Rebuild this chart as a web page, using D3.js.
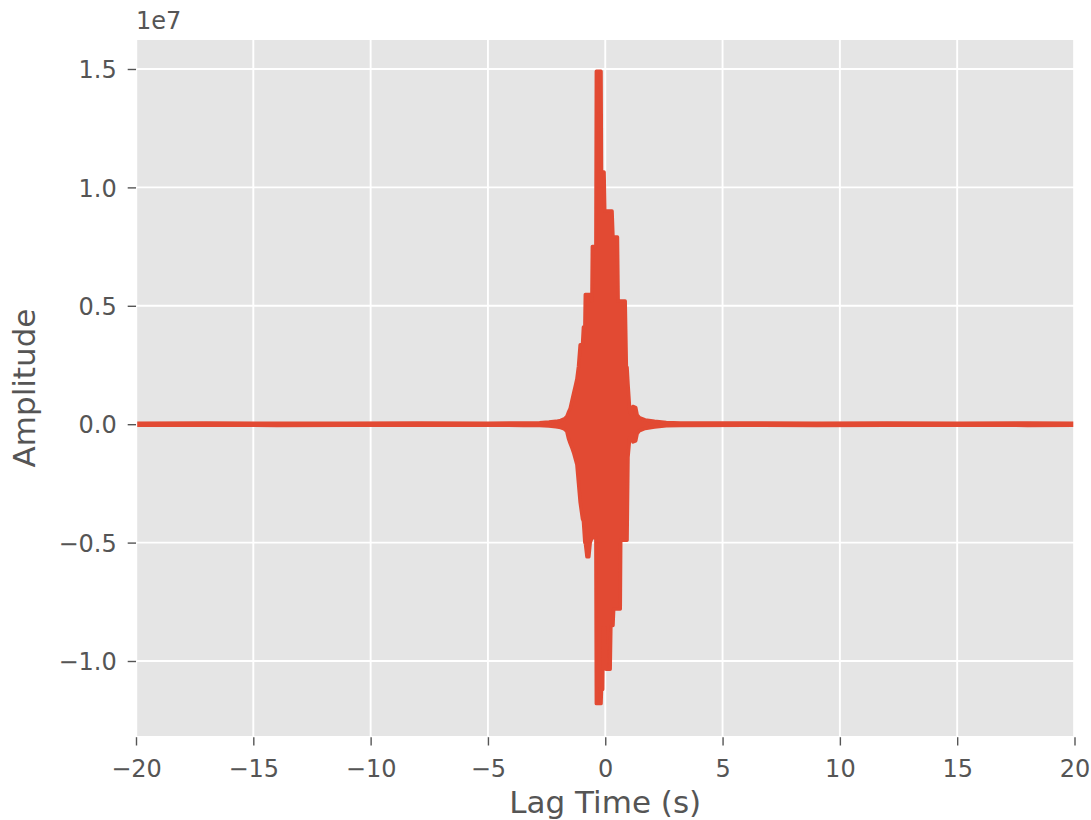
<!DOCTYPE html>
<html>
<head>
<meta charset="utf-8">
<script src="https://cdn.jsdelivr.net/npm/d3@7/dist/d3.min.js"></script>
<style>
  html, body { margin: 0; padding: 0; background: #ffffff; }
  svg { display: block; }
  text { font-family: "DejaVu Sans", sans-serif; }
</style>
</head>
<body>
<svg id="chart" width="1091" height="820"></svg>
<script>
// ---- Data (amplitudes in units of 1e7) ----
// Envelope of the cross-correlation trace.
const lagTime = [-20, -17, -14, -11, -8, -5, -3.5, -2.8, -2.4, -2.1, -1.9, -1.75, -1.64, -1.57, -1.5, -1.42, -1.35, -1.28, -1.21, -1.14, -1.07, -0.97, -0.93, -0.87, -0.85, -0.78, -0.7, -0.64, -0.57, -0.55, -0.4, -0.38, -0.18, -0.16, -0.11, -0.09, -0.05, -0.02, 0.03, 0.21, 0.24, 0.29, 0.33, 0.36, 0.52, 0.55, 0.64, 0.66, 0.85, 0.9, 0.93, 0.97, 1.05, 1.12, 1.18, 1.3, 1.36, 1.45, 1.7, 2.1, 2.6, 3.2, 6, 9, 12, 15, 18, 20];
const upperEnv = [0.004, 0.005, 0.004, 0.004, 0.005, 0.004, 0.005, 0.006, 0.009, 0.012, 0.016, 0.022, 0.032, 0.05, 0.065, 0.1, 0.13, 0.16, 0.19, 0.245, 0.335, 0.335, 0.41, 0.41, 0.548, 0.548, 0.548, 0.548, 0.52, 0.75, 0.75, 1.49, 1.49, 1.065, 1.065, 1.065, 1.065, 0.9, 0.9, 0.9, 0.9, 0.9, 0.79, 0.79, 0.79, 0.52, 0.52, 0.52, 0.52, 0.24, 0.24, 0.17, 0.05, 0.04, 0.075, 0.07, 0.04, 0.028, 0.018, 0.012, 0.007, 0.005, 0.005, 0.004, 0.005, 0.004, 0.005, 0.004];
const lowerEnv = [-0.004, -0.004, -0.005, -0.004, -0.004, -0.004, -0.005, -0.006, -0.008, -0.011, -0.014, -0.02, -0.03, -0.06, -0.08, -0.1, -0.12, -0.145, -0.17, -0.25, -0.33, -0.4, -0.41, -0.5, -0.5, -0.56, -0.56, -0.5, -0.48, -0.48, -0.48, -1.18, -1.18, -1.12, -1.12, -0.86, -0.86, -0.86, -1.035, -1.035, -0.85, -0.85, -0.85, -0.78, -0.78, -0.78, -0.78, -0.49, -0.49, -0.49, -0.49, -0.14, -0.05, -0.04, -0.075, -0.07, -0.04, -0.028, -0.018, -0.012, -0.007, -0.005, -0.004, -0.005, -0.004, -0.004, -0.005, -0.004];

const xTicks = [-20, -15, -10, -5, 0, 5, 10, 15, 20];
const yTicks = [-1.0, -0.5, 0.0, 0.5, 1.0, 1.5];
const xDomain = [-20, 20];
const yDomain = [-1.3218, 1.6275];
const xLabel = "Lag Time (s)";
const yLabel = "Amplitude";
const offsetLabel = "1e7";

// ---- Layout ----
const plot = { left: 136, right: 1074.5, top: 38.8, bottom: 737.2 };
const lineColor = "#E24A33";
const textColor = "#555555";

const svg = d3.select("#chart");
const x = d3.scaleLinear().domain(xDomain).range([plot.left, plot.right]);
const y = d3.scaleLinear().domain(yDomain).range([plot.bottom, plot.top]);

// plot background
svg.append("rect")
  .attr("x", plot.left).attr("y", plot.top)
  .attr("width", plot.right - plot.left).attr("height", plot.bottom - plot.top)
  .attr("fill", "#E5E5E5");

// grid
const grid = svg.append("g").attr("stroke", "#ffffff").attr("stroke-width", 1.9);
grid.selectAll(".gx").data(xTicks).join("line")
  .attr("x1", d => x(d)).attr("x2", d => x(d))
  .attr("y1", plot.top).attr("y2", plot.bottom);
grid.selectAll(".gy").data(yTicks).join("line")
  .attr("y1", d => y(d)).attr("y2", d => y(d))
  .attr("x1", plot.left).attr("x2", plot.right);

// data
const pts = lagTime.map((t, i) => ({ t, hi: upperEnv[i], lo: lowerEnv[i] }));
const clip = svg.append("clipPath").attr("id", "clip").append("rect")
  .attr("x", plot.left).attr("y", plot.top)
  .attr("width", plot.right - plot.left).attr("height", plot.bottom - plot.top);
const g = svg.append("g").attr("clip-path", "url(#clip)");
const area = d3.area().x(d => x(d.t)).y0(d => y(d.lo)).y1(d => y(d.hi));
g.append("path").datum(pts).attr("d", area)
  .attr("fill", lineColor).attr("stroke", lineColor)
  .attr("stroke-width", 3.5).attr("stroke-linejoin", "round");

// white spines
svg.append("rect")
  .attr("x", plot.left).attr("y", plot.top)
  .attr("width", plot.right - plot.left).attr("height", plot.bottom - plot.top)
  .attr("fill", "none").attr("stroke", "#ffffff").attr("stroke-width", 2.4);

// axes
const fmtX = d3.format("d");
const fmtY = d3.format(".1f");
const xAxis = svg.append("g").attr("transform", `translate(0,${plot.bottom})`)
  .call(d3.axisBottom(x).tickValues(xTicks).tickFormat(fmtX).tickSize(8.3).tickPadding(8));
const yAxis = svg.append("g").attr("transform", `translate(${plot.left},0)`)
  .call(d3.axisLeft(y).tickValues(yTicks).tickFormat(fmtY).tickSize(8.3).tickPadding(11));
[xAxis, yAxis].forEach(ax => {
  ax.select(".domain").remove();
  ax.selectAll(".tick line").attr("stroke", textColor).attr("stroke-width", 1.4);
  ax.selectAll(".tick text").attr("fill", textColor).style("font-size", "24px")
    .style("font-family", "DejaVu Sans");
});
xAxis.selectAll(".tick text").attr("y", 39.5).attr("dy", 0);
yAxis.selectAll(".tick text").attr("dy", "0.36em");

// offset text
svg.append("text").attr("x", plot.left).attr("y", 28.5)
  .attr("fill", textColor).style("font-size", "24px").text(offsetLabel);

// axis labels
svg.append("text").attr("x", (plot.left + plot.right) / 2).attr("y", 813)
  .attr("text-anchor", "middle").attr("fill", textColor).style("font-size", "31px").text(xLabel);
svg.append("text")
  .attr("transform", `translate(35,${(plot.top + plot.bottom) / 2}) rotate(-90)`)
  .attr("text-anchor", "middle").attr("fill", textColor).style("font-size", "31px").text(yLabel);
</script>
</body>
</html>
